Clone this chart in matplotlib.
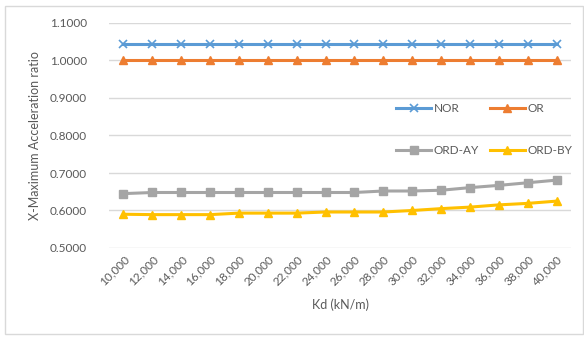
import matplotlib
matplotlib.use("Agg")
import matplotlib.pyplot as plt
from matplotlib.patches import Rectangle

plt.rcParams['font.family'] = ['Lato', 'DejaVu Sans']

kd = ["10,000", "12,000", "14,000", "16,000", "18,000", "20,000", "22,000", "24,000",
      "26,000", "28,000", "30,000", "32,000", "34,000", "36,000", "38,000", "40,000"]
nor = [1.045] * 16
or_ = [1.000] * 16
ord_ay = [0.645, 0.648, 0.648, 0.648, 0.648, 0.648, 0.648, 0.648,
          0.648, 0.652, 0.652, 0.654, 0.661, 0.667, 0.674, 0.681]
ord_by = [0.590, 0.589, 0.589, 0.589, 0.593, 0.593, 0.593, 0.596,
          0.596, 0.596, 0.600, 0.605, 0.609, 0.615, 0.619, 0.625]

txt = '#595959'
fig = plt.figure(figsize=(5.84, 3.44), dpi=100)
fig.patches.append(Rectangle((5/584, 10/344), 578/584, 328/344, transform=fig.transFigure,
                             fill=False, edgecolor='#D9D9D9', linewidth=1))
ax = fig.add_axes([109/584, 1-248/344, 462/584, 225/344])
x = list(range(len(kd)))
lw = 2.2
h1, = ax.plot(x, nor, color='#5B9BD5', lw=lw, marker='x', ms=6, mew=1.2, label='NOR')
h2, = ax.plot(x, or_, color='#ED7D31', lw=lw, marker='^', ms=6, label='OR')
h3, = ax.plot(x, ord_ay, color='#A5A5A5', lw=lw, marker='s', ms=6, label='ORD-AY')
h4, = ax.plot(x, ord_by, color='#FFC000', lw=lw, marker='^', ms=6, label='ORD-BY')

ax.set_xlim(-0.5, len(kd) - 0.5)
ax.set_ylim(0.5, 1.1)
yt = [0.5, 0.6, 0.7, 0.8, 0.9, 1.0, 1.1]
ax.set_yticks(yt)
ax.set_yticklabels([f"{v:.4f}" for v in yt])
ax.set_xticks(x)
ax.set_xticklabels(kd, rotation=45, ha='right', rotation_mode='anchor')
ax.grid(axis='y', color='#D9D9D9', lw=1)
ax.set_axisbelow(True)
for s in ax.spines.values():
    s.set_visible(False)
ax.tick_params(axis='both', length=0, colors=txt, labelsize=8.5)
ax.tick_params(axis='y', pad=16)
ax.tick_params(axis='x', pad=4)
ax.set_xlabel('Kd (kN/m)', color=txt, fontsize=9, labelpad=8)
ax.set_ylabel('X-Maximum Acceleration ratio', color=txt, fontsize=9, labelpad=6)

leg = ax.legend([h1, h3, h2, h4], ['NOR', 'ORD-AY', 'OR', 'ORD-BY'],
                ncol=2, frameon=False, loc='upper left', bbox_to_anchor=(287/462, 1 - 80/225),
                fontsize=8.5, handlelength=3.0, labelspacing=2.6, columnspacing=0.9,
                handletextpad=0.2, borderpad=0, borderaxespad=0)
for t in leg.get_texts():
    t.set_color(txt)
fig.savefig('out.png', dpi=100)
